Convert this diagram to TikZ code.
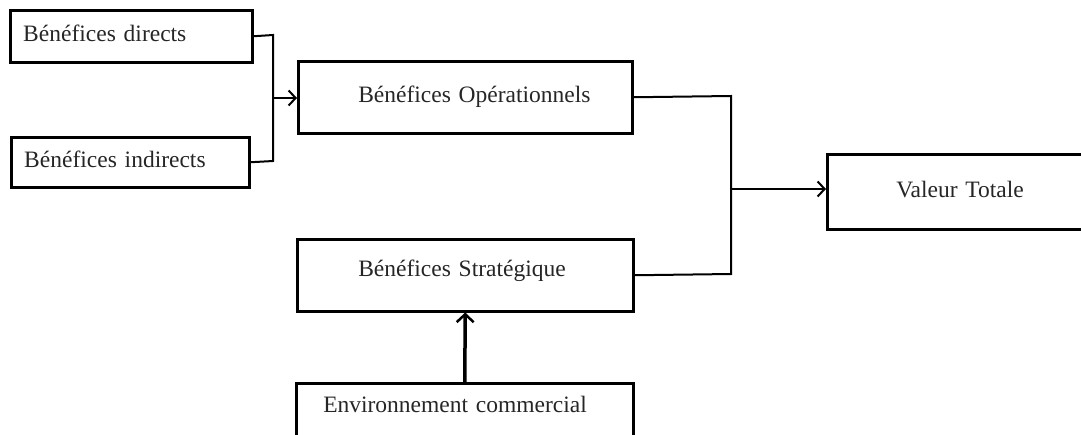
\documentclass[tikz,border=0pt]{standalone}
\usepackage{fontspec}
\setmainfont{Liberation Serif}
\usetikzlibrary{arrows.meta}
\begin{document}
\begin{tikzpicture}[x=1pt,y=-1pt,
  box/.style={draw=black, line width=2.5pt, anchor=north west, inner sep=0pt,
    align=left, text height=16pt, text depth=5pt,
    font=\fontsize{23.5}{28}\selectfont, text=black!85},
  conn/.style={draw=black, line width=2pt},
  arr/.style={conn, -{Straight Barb[length=7pt,width=15pt,line width=2pt]}}]
\useasboundingbox (0,0) rectangle (1081,434);
\clip (0,0) rectangle (1081,434);
% boxes
\node[box, minimum width=242pt, minimum height=52pt, text width=242pt] (d) at (9,9) {\hspace*{13pt}Bénéfices directs};
\node[box, minimum width=238pt, minimum height=50pt, text width=238pt] (i) at (10,136) {\hspace*{13pt}Bénéfices indirects};
\node[box, minimum width=334pt, minimum height=72pt, text width=334pt] (op) at (297,60) {\hspace*{60pt}Bénéfices Opérationnels};
\node[box, minimum width=336pt, minimum height=72pt, text width=336pt, text depth=14pt] (st) at (296,238) {\hspace*{61pt}Bénéfices Stratégique};
\node[box, minimum width=337pt, minimum height=56pt, text width=337pt, text depth=13pt] (env) at (295,382) {\hspace*{27pt}Environnement commercial};
\node[box, minimum width=270pt, minimum height=75pt, text width=270pt] (v) at (826,153) {\hspace*{69pt}Valeur Totale};
% left connector
\coordinate (j1) at (273,98);
\draw[conn] (d.east) -- (273,35) -- (273,161) -- (i.east);
\draw[arr] (j1) -- (j1 -| op.west);
% right connector
\coordinate (j2) at (731,189);
\draw[conn] (op.east) -- (731,96) -- (731,274) -- (st.east);
\draw[arr] (j2) -- (j2 -| v.west);
% vertical arrow
\draw[conn, line width=3.5pt, -{Straight Barb[length=8pt,width=17pt,line width=2.5pt]}] (env.north) -- (st.south);
\end{tikzpicture}
\end{document}
